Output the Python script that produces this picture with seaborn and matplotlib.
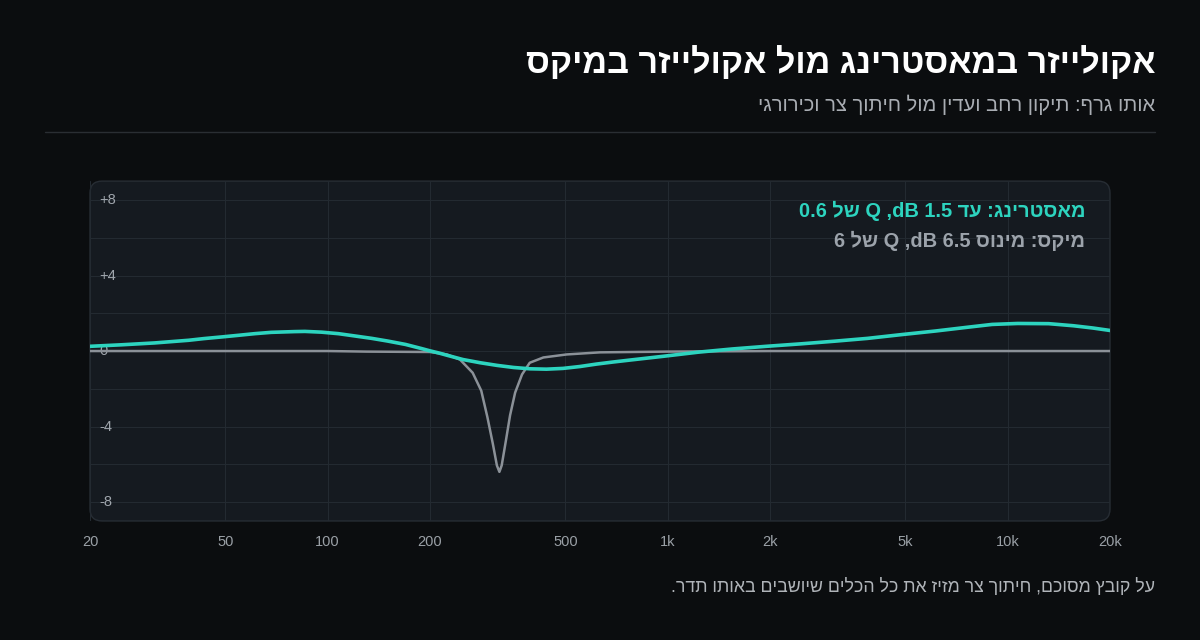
import numpy as np
import pandas as pd
import matplotlib.pyplot as plt
import seaborn as sns
from matplotlib.patches import FancyBboxPatch
from matplotlib.lines import Line2D
from matplotlib.ticker import NullLocator

# values
master_freq = [20, 24.7, 27.7, 31, 39, 43.3, 49, 54.4, 61, 68.2, 80, 85.7, 96, 107.6,
               120, 134.9, 150, 169.4, 189, 200, 212, 224, 250, 281, 315, 352, 393,
               440, 492, 552, 618, 692, 773, 969, 1230, 1550, 1950, 2460, 3090, 3870,
               4870, 6130, 7700, 9000, 10700, 13200, 15600, 17800, 20000]
master_db = [0.25, 0.33, 0.38, 0.43, 0.57, 0.66, 0.75, 0.83, 0.92, 0.99, 1.03, 1.04,
             1.0, 0.92, 0.8, 0.67, 0.53, 0.35, 0.13, 0.01, -0.1, -0.22, -0.45, -0.62,
             -0.76, -0.87, -0.94, -0.96, -0.92, -0.82, -0.69, -0.58, -0.48, -0.28,
             -0.06, 0.11, 0.25, 0.38, 0.52, 0.67, 0.87, 1.06, 1.27, 1.41, 1.46, 1.45,
             1.34, 1.22, 1.09]

mix_freq = [20, 100, 130, 200, 224, 245, 267, 283, 295, 306, 314.6, 320, 325, 334,
            344, 356, 373, 393, 431, 505, 632, 1000, 2000, 20000]
mix_db = [0.0, 0.0, -0.03, -0.05, -0.18, -0.45, -1.15, -2.1, -3.5, -4.9, -6.06, -6.4,
          -6.06, -4.8, -3.4, -2.2, -1.24, -0.62, -0.34, -0.18, -0.07, -0.03, 0.0, 0.0]

x_ticks = [20, 50, 100, 200, 500, 1000, 2000, 5000, 10000, 20000]
x_labels = ['20', '50', '100', '200', '500', '1k', '2k', '5k', '10k', '20k']
y_grid = [-8, -6, -4, -2, 0, 2, 4, 6, 8]
y_labels = {8: '+8', 4: '+4', 0: '0', -4: '-4', -8: '-8'}

title = 'אקולייזר במאסטרינג מול אקולייזר במיקס'
subtitle = 'אותו גרף: תיקון רחב ועדין מול חיתוך צר וכירורגי'
note = 'על קובץ מסוכם, חיתוך צר מזיז את כל הכלים שיושבים באותו תדר.'
master_label = 'מאסטרינג: עד 1.5 dB, Q של 0.6'
mix_label = 'מיקס: מינוס 6.5 dB, Q של 6'

BG = '#0b0d0f'
PANEL = '#151a20'
TEAL = '#2dd4bf'
GRAY = '#8b9198'


def visual(s):
    # matplotlib has no bidi, put the Hebrew words in display order
    out = []
    for w in reversed(s.split(' ')):
        if any('\u0590' <= c <= '\u05ff' for c in w):
            out.append(w[::-1])
        else:
            core = w.rstrip(',.:')
            out.append(w[len(core):] + core)
    return ' '.join(out)


sns.set_theme(style='dark')
plt.rcParams['font.family'] = ['Liberation Sans', 'DejaVu Sans']

master = pd.DataFrame({'freq': master_freq, 'db': master_db})
mix = pd.DataFrame({'freq': mix_freq, 'db': mix_db})

fig = plt.figure(figsize=(12, 6.4), dpi=100, facecolor=BG)
ax = fig.add_axes([0.075, 0.186, 0.85, 0.531])
ax.set_facecolor('none')
for s in ax.spines.values():
    s.set_visible(False)

panel = FancyBboxPatch((0, 0), 1, 1, boxstyle='round,pad=0,rounding_size=0.0118',
                       mutation_aspect=3.0, transform=ax.transAxes,
                       facecolor=PANEL, edgecolor='#272d34', linewidth=1.0,
                       zorder=0, clip_on=False)
ax.add_patch(panel)

sns.lineplot(data=mix, x='freq', y='db', ax=ax, color=GRAY, linewidth=1.8, zorder=3)
sns.lineplot(data=master, x='freq', y='db', ax=ax, color=TEAL, linewidth=2.6, zorder=4)
for ln in ax.lines:
    ln.set_solid_joinstyle('round')

ax.set_xscale('log')
ax.set_xlim(20, 20000)
ax.set_ylim(-9, 9)
ax.set_xticks(x_ticks)
ax.set_xticklabels(x_labels)
ax.xaxis.set_minor_locator(NullLocator())
ax.set_yticks(y_grid)
ax.set_yticklabels([])
ax.set_axisbelow(True)
ax.grid(True, color='#232a31', linewidth=0.8)
ax.tick_params(axis='x', length=0, pad=10, labelsize=10.5, labelcolor='#9aa0a6')
ax.tick_params(axis='y', length=0)
ax.set_xlabel('')
ax.set_ylabel('')

for v, lab in y_labels.items():
    ax.text(0.009, v, lab, transform=ax.get_yaxis_transform(), ha='left', va='center',
            fontsize=10.5, color='#a0a6ad', zorder=2)

ax.text(0.9755, 0.912, visual(master_label), transform=ax.transAxes, ha='right',
        va='center', fontsize=14.4, fontweight='bold', color=TEAL, zorder=5)
ax.text(0.9755, 0.824, visual(mix_label), transform=ax.transAxes, ha='right',
        va='center', fontsize=14.4, fontweight='bold', color='#9ca3ab', zorder=5)

fig.text(0.9625, 0.886, visual(title), ha='right', va='baseline', fontsize=24.6,
         fontweight='bold', color='#ffffff')
fig.text(0.9625, 0.827, visual(subtitle), ha='right', va='baseline', fontsize=14.5,
         color='#a9adb3')
fig.text(0.9625, 0.075, visual(note), ha='right', va='baseline', fontsize=12.75,
         color='#b0b4b9')
fig.add_artist(Line2D([45 / 1200, 1155 / 1200], [1 - 132 / 640, 1 - 132 / 640],
                      color='#2a2e33', linewidth=1.0))

fig.savefig('out.png', dpi=100, facecolor=BG)
